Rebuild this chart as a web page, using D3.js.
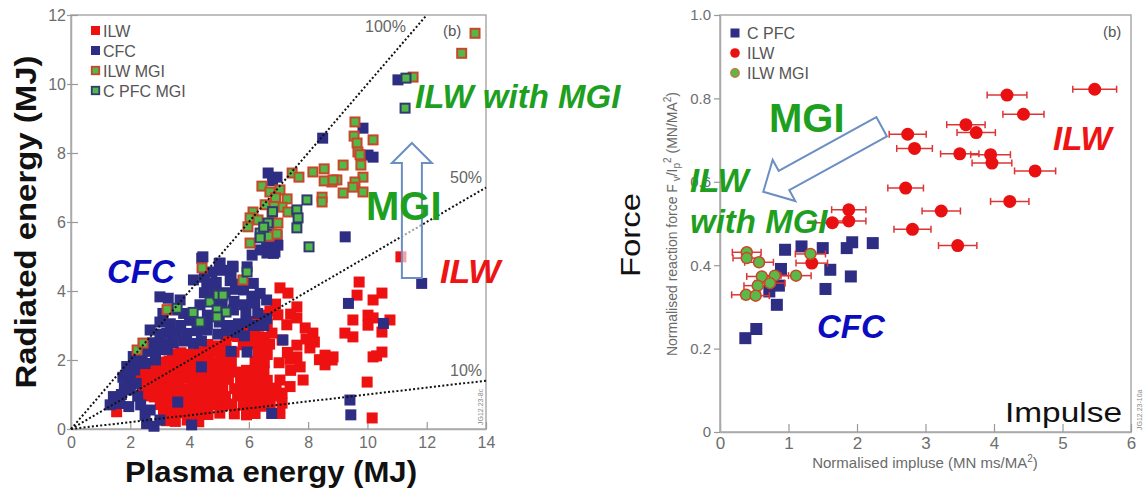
<!DOCTYPE html>
<html><head><meta charset="utf-8">
<script src="https://cdn.jsdelivr.net/npm/d3@7"></script>
<style>
body{margin:0;background:#fff;}
svg{display:block;font-family:"Liberation Sans",Arial,sans-serif;}
</style></head><body>
<svg id="c" width="1148" height="495"></svg>
<script>
// ---------------- LEFT PANEL DATA (Plasma energy MJ, Radiated energy MJ) ----------------
const leftXTicks = [0,2,4,6,8,10,12,14];
const leftYTicks = [0,2,4,6,8,10,12];
const leftRatios = [1, 0.5, 0.1];
const leftRatioLabels = ["100%","50%","10%"];
const leftLegend = ["ILW","CFC","ILW MGI","C PFC MGI"];

const leftILW = [
[11.13,4.99],[9.72,4.26],[9.65,3.88],[10.19,3.74],[10.49,3.94],[9.51,3.16],[10.02,3.30],[10.19,3.22],[10.76,3.16],[10.49,2.81],[9.24,2.78],[9.51,2.67],[10.02,3.01],[8.84,2.09],[10.19,2.09],[10.49,2.23],[9.99,1.36],[10.16,0.32],[10.31,2.12],
[7.05,4.09],[7.32,3.94],[7.62,3.54],[7.62,3.22],[7.90,2.93],[8.16,2.78],[8.06,2.35],[8.57,2.14],[8.81,2.00],[8.57,1.86],[7.62,2.43],[7.62,2.09],[7.39,2.02],[7.12,2.58],[6.78,2.78],[7.30,2.22],[7.02,1.92],[7.41,1.70],[7.73,1.80],[7.83,1.42],[7.39,1.23],[7.05,1.42],[7.12,1.04],[7.12,0.75],[7.05,0.45],[6.92,1.18],[7.28,3.02],[6.98,3.31],[6.90,3.62],[7.41,3.33],[8.21,2.52],[7.93,2.61],[8.38,2.01],
[6.42,3.30],[6.71,3.42],
[6.02,3.02],[6.33,2.98],[6.62,3.05],[6.15,3.12],
[5.31,2.71],[5.62,2.68],[5.93,2.74],[6.21,2.70],[6.52,2.66],
[4.61,2.45],[4.92,2.41],[5.23,2.48],[5.81,2.44],[6.12,2.47],[6.43,2.42],[6.70,2.46],
[3.42,2.18],[3.71,2.21],[4.02,2.16],[4.33,2.24],[4.62,2.19],[4.93,2.22],[5.22,2.17],[5.50,2.23],[6.31,2.20],[6.62,2.16],
[3.02,1.94],[3.31,1.97],[3.62,1.92],[3.91,1.98],[4.22,1.93],[4.52,1.96],[4.81,1.91],[5.12,1.97],[5.41,1.94],[6.21,1.95],[6.52,1.92],
[2.32,1.68],[2.61,1.72],[2.92,1.69],[3.21,1.73],[3.52,1.67],[3.81,1.71],[4.12,1.70],[4.41,1.66],[4.72,1.72],[5.01,1.68],[5.32,1.71],[5.61,1.65],[5.92,1.70],[6.22,1.73],[6.51,1.67],
[2.29,1.44],[2.58,1.47],[2.91,1.42],[3.20,1.46],[3.52,1.43],[3.79,1.48],[4.11,1.44],[4.42,1.47],[4.70,1.42],[5.02,1.46],[5.31,1.44],[5.72,1.47],[6.02,1.43],[6.31,1.46],[6.62,1.41],
[2.41,1.21],[2.72,1.18],[3.02,1.22],[3.31,1.19],[3.62,1.23],[3.91,1.17],[4.22,1.21],[4.51,1.18],[4.82,1.22],[5.12,1.20],[5.52,1.17],[5.81,1.22],[6.12,1.19],[6.41,1.23],[6.72,1.18],
[2.52,0.96],[2.81,0.93],[3.12,0.97],[3.41,0.94],[3.72,0.98],[4.01,0.93],[4.32,0.96],[4.61,0.92],[4.92,0.97],[5.21,0.94],[5.62,0.96],[5.91,0.92],[6.22,0.97],[6.52,0.93],[6.81,0.96],
[3.01,0.71],[3.32,0.68],[3.61,0.72],[3.92,0.69],[4.21,0.73],[4.52,0.67],[4.81,0.71],[5.12,0.68],[5.42,0.72],[5.81,0.69],[6.12,0.71],[6.41,0.66],[6.72,0.70],
[3.12,0.46],[3.41,0.43],[3.72,0.47],[4.02,0.44],[4.31,0.45],[4.62,0.42],[5.02,0.46],[5.51,0.44],[5.92,0.41],[6.21,0.45],
[3.21,0.24],[3.52,0.22],[3.92,0.26],[4.31,0.21],
[1.54,0.50]
];

const leftCFC = [
[4.41,4.95],[5.00,4.80],[5.45,4.72],[4.75,4.55],[5.10,4.60],[5.40,4.45],[4.50,4.40],
[4.13,4.32],[4.58,4.22],[4.90,4.25],[5.37,4.30],[5.70,4.20],[6.15,4.22],
[4.50,3.95],[4.85,4.00],[5.20,3.95],[5.55,4.05],[5.82,4.03],[6.38,3.93],[6.10,3.85],
[3.00,3.83],[3.28,3.79],[3.68,3.74],[4.35,3.60],[4.80,3.70],[5.10,3.65],[5.50,3.70],[5.85,3.60],[6.20,3.65],[6.60,3.74],
[3.10,3.35],[3.45,3.45],[3.80,3.35],[4.60,3.30],[5.48,3.45],[5.90,3.35],[6.30,3.35],[6.60,3.20],
[3.00,3.10],[3.35,3.05],[3.70,3.00],[4.00,3.15],[4.60,3.05],[5.00,3.10],[5.30,3.00],[5.65,3.05],[5.93,3.10],[6.15,3.00],[6.50,3.00],
[2.67,2.87],[3.00,2.75],[3.23,2.77],[3.55,2.80],[3.90,2.77],[4.25,2.85],[4.58,2.87],[4.95,2.75],[5.25,2.85],[5.60,2.80],[5.85,2.70],
[2.44,2.48],[2.75,2.50],[3.10,2.45],[3.45,2.50],[3.80,2.55],[4.13,2.48],[4.40,2.55],
[2.10,2.10],[2.40,2.20],[2.70,2.25],[3.00,2.30],[3.25,2.30],
[1.88,1.81],[2.20,1.95],[2.50,1.90],[2.85,2.00],[1.75,1.50],
[2.00,1.55],[2.15,1.71],
[2.00,1.30],[2.20,1.32],[1.80,1.20],
[1.43,0.94],[1.70,1.00],[2.00,1.13],[2.25,0.95],
[1.32,0.70],[1.65,0.74],[1.95,0.65],[2.35,0.70],[2.67,0.55],[2.50,0.40],
[2.55,0.16],[3.00,0.26],[2.80,0.08],[4.07,0.12],[3.60,0.78],
[4.40,1.80],[5.94,2.23],[7.15,2.58],[6.77,0.45],[5.40,2.25],
[9.41,0.84],[9.44,0.41],[9.36,3.64],[10.54,3.06],[11.83,4.22],[9.25,5.57],[8.49,8.43],
[6.65,7.42],[6.95,7.30],[6.80,7.20],
[6.60,5.28],[6.83,5.09],[6.38,5.19],[6.71,5.28],[6.98,5.33],[6.11,5.04],[6.61,5.10],[6.88,5.13],[6.95,5.60],[6.75,5.65],
[4.45,4.99],[5.03,4.81],[5.47,4.70],[5.94,4.70],
[9.85,8.72],[10.02,7.94],[10.19,7.88],[11.03,10.12]
];

const leftILWMGI = [
[13.63,11.47],[13.18,10.89],[11.54,10.20],
[9.58,8.90],[9.55,8.49],[9.65,8.29],[10.19,8.38],[9.68,8.03],[9.75,7.95],[9.78,7.65],[9.18,7.65],[9.85,7.30],[9.58,7.16],[9.51,7.01],[9.18,6.84],[9.85,6.87],[8.97,7.22],[8.80,7.16],[8.16,7.45],[8.54,7.54],[8.54,7.19],[8.84,7.22],[8.47,6.72],[8.47,6.58],
[7.46,7.42],[7.69,7.30],[6.44,7.04],[6.71,6.87],[7.05,6.93],[6.90,6.70],[7.29,6.67],[7.12,6.43],[7.32,6.29],[6.14,6.29],[6.04,6.12],[5.97,5.86],[6.31,6.06],[6.78,6.26],[6.98,5.97],[6.68,5.59],[6.95,5.65],[6.04,5.39],[6.55,6.50],[6.85,6.45],
[4.42,4.67],[5.80,4.32],[3.24,3.46],[2.23,2.29],[2.43,2.49]
];

const leftCPFCMGI = [
[11.30,10.17],[11.27,9.30],[7.96,6.64],[8.03,5.28],[7.62,6.35],[7.66,6.12],[7.62,5.83],[6.80,6.30],[6.65,5.97],[6.38,5.68],[6.38,5.54],[6.50,5.85],
[5.94,4.55],[3.58,3.50],[4.12,3.38],[4.35,3.10],[4.69,3.68],[4.96,3.88],[5.13,3.88],[4.93,3.45],[5.23,3.39],[4.93,3.25]
];

// ---------------- RIGHT PANEL DATA (Normalised impulse, Normalised force) ----------------
const rightXTicks = [0,1,2,3,4,5,6];
const rightYTicks = [0,0.2,0.4,0.6,0.8,1.0];
const rightLegend = ["C PFC","ILW","ILW MGI"];
const rightCPFC = [
[0.37,0.225],[0.53,0.247],[0.83,0.305],[0.72,0.337],[0.86,0.351],[0.89,0.391],[0.95,0.437],[1.19,0.445],[1.50,0.441],[1.61,0.389],[1.54,0.343],[1.85,0.441],[1.93,0.455],[1.91,0.373],[2.23,0.453]
];
// [impulse, force, impulse error]
const rightILW = [
[5.47,0.822,0.32],[4.19,0.808,0.29],[4.43,0.762,0.30],[3.59,0.737,0.28],[3.74,0.718,0.28],[2.74,0.714,0.27],[2.84,0.680,0.26],[3.50,0.667,0.28],[3.95,0.665,0.29],[3.97,0.645,0.29],[4.60,0.626,0.30],[2.71,0.585,0.26],[4.23,0.553,0.28],[3.23,0.530,0.28],[2.81,0.486,0.27],[3.47,0.447,0.28],[1.88,0.533,0.25],[1.88,0.506,0.25],[1.64,0.502,0.25],[1.34,0.405,0.23]
];
const rightILWMGI = [
[0.39,0.431,0.21],[0.39,0.417,0.20],[0.57,0.407,0.21],[1.32,0.427,0.22],[0.61,0.373,0.22],[0.80,0.375,0.20],[1.11,0.375,0.22],[0.73,0.357,0.22],[0.55,0.351,0.20],[0.38,0.329,0.21],[0.52,0.327,0.20]
];

// ---------------- STYLE ----------------
const C = {
  red:"#ee1111", navy:"#2e2d84", green:"#52b848", mgiRed:"#c8472a", mgiNavy:"#2e3a70",
  txtGreen:"#1f9f1f", txtBlue:"#0c0cbf", txtRed:"#ee1414", axis:"#aaaaaa", tick:"#6e6e6e",
  arrow:"#6b8fc2", err:"#dd3535"
};
const svg = d3.select("#c");

function styleAxis(g, fs){
  g.select(".domain").attr("stroke", C.axis).attr("stroke-width",1.5);
  g.selectAll(".tick line").attr("stroke", "#999").attr("stroke-width",1.2);
  g.selectAll(".tick text").attr("fill", C.tick).attr("font-size", fs).attr("font-family","Liberation Sans, Arial, sans-serif");
}

// ================= LEFT PANEL =================
const lx = d3.scaleLinear().domain([0,14]).range([71,486]);
const ly = d3.scaleLinear().domain([0,12]).range([429,15]);
const L = svg.append("g");

L.append("rect").attr("x",lx(0)).attr("y",ly(12)).attr("width",lx(14)-lx(0)).attr("height",ly(0)-ly(12))
 .attr("fill","none").attr("stroke",C.axis).attr("stroke-width",1.5);

const lxg = L.append("g").attr("transform",`translate(0,${ly(0)})`)
  .call(d3.axisBottom(lx).tickValues(leftXTicks).tickSizeInner(-7).tickSizeOuter(0).tickPadding(7.5).tickFormat(d3.format("d")));
styleAxis(lxg,16);
const lyg = L.append("g").attr("transform",`translate(${lx(0)},0)`)
  .call(d3.axisLeft(ly).tickValues(leftYTicks).tickSizeInner(4).tickSizeOuter(0).tickPadding(1).tickFormat(d3.format("d")));
styleAxis(lyg,16);
lyg.selectAll(".tick line").attr("x1",7);

// markers
const S = 11;
function squares(g, data, xs, ys, size, fill, stroke, sw){
  g.selectAll(null).data(data).enter().append("rect")
   .attr("x",d=>xs(d[0])-size/2).attr("y",d=>ys(d[1])-size/2)
   .attr("width",size).attr("height",size)
   .attr("fill",fill).attr("stroke",stroke||"none").attr("stroke-width",sw||0);
}
const mk = L.append("g");
squares(mk, leftILW, lx, ly, S, C.red);
squares(mk, leftCFC, lx, ly, S, C.navy);
squares(mk, leftILWMGI, lx, ly, S-2, C.green, C.mgiRed, 2);
squares(mk, leftCPFCMGI, lx, ly, S-2, C.green, C.mgiNavy, 2);

// ratio lines (drawn over markers)
const ratioG = L.append("g");
leftRatios.forEach(r=>{
  const xe = Math.min(14, 12/r);
  ratioG.append("line").attr("x1",lx(0)).attr("y1",ly(0)).attr("x2",lx(xe)).attr("y2",ly(xe*r))
    .attr("stroke","#111").attr("stroke-width",2).attr("stroke-dasharray","2,2.2");
});
const ratioLabelPos = [[365,32],[450,183],[450,376]];
leftRatioLabels.forEach((t,i)=>{
  L.append("text").attr("x",ratioLabelPos[i][0]).attr("y",ratioLabelPos[i][1]).attr("font-size",16).attr("fill","#666").text(t);
});
L.append("text").attr("x",443).attr("y",36).attr("font-size",15).attr("fill","#555").text("(b)");

// legend
const legCols = [[C.red,null],[C.navy,null],[C.green,C.mgiRed],[C.green,C.mgiNavy]];
leftLegend.forEach((t,i)=>{
  const yy = 30.5 + i*20;
  L.append("rect").attr("x",91+(legCols[i][1]?0.75:0)).attr("y",yy-4.5+(legCols[i][1]?0.75:0))
   .attr("width",legCols[i][1]?7.5:9).attr("height",legCols[i][1]?7.5:9)
   .attr("fill",legCols[i][0]).attr("stroke",legCols[i][1]||"none").attr("stroke-width",legCols[i][1]?1.8:0);
  L.append("text").attr("x",103).attr("y",yy+6).attr("font-size",16).attr("fill","#555").text(t);
});

// arrow (vertical, up)
(function(){
  const xc = lx(11.5), yTip = ly(8.29), yBot = ly(4.38), hw = 10, HW = 20, HL = 20;
  const pts = [[xc-hw,yBot],[xc-hw,yTip+HL],[xc-HW,yTip+HL],[xc,yTip],[xc+HW,yTip+HL],[xc+hw,yTip+HL],[xc+hw,yBot]];
  L.append("polygon").attr("points",pts.map(p=>p.join(",")).join(" "))
   .attr("fill","#fff").attr("fill-opacity",0.6).attr("stroke",C.arrow).attr("stroke-width",2);
})();

// annotations
L.append("text").attr("x",415).attr("y",108).attr("font-size",33).attr("font-weight","bold").attr("font-style","italic").attr("fill",C.txtGreen).text("ILW with MGI");
L.append("text").attr("x",366).attr("y",220).attr("font-size",40).attr("font-weight","bold").attr("fill",C.txtGreen).text("MGI");
L.append("text").attr("x",440).attr("y",283).attr("font-size",34).attr("font-weight","bold").attr("font-style","italic").attr("fill",C.txtRed).text("ILW");
L.append("text").attr("x",107).attr("y",283).attr("font-size",33).attr("font-weight","bold").attr("font-style","italic").attr("fill",C.txtBlue).text("CFC");

// axis titles
L.append("text").attr("x",271).attr("y",482).attr("text-anchor","middle").attr("font-size",29).attr("font-weight","bold")
 .attr("fill","#111").attr("textLength",292).attr("lengthAdjust","spacingAndGlyphs").text("Plasma energy (MJ)");
L.append("text").attr("transform","translate(36,222) rotate(-90)").attr("text-anchor","middle").attr("font-size",29).attr("font-weight","bold")
 .attr("fill","#111").attr("textLength",333).attr("lengthAdjust","spacingAndGlyphs").text("Radiated energy (MJ)");
L.append("text").attr("transform","translate(483,425) rotate(-90)").attr("font-size",7).attr("fill","#888").text("JG12.23-8c");

// ================= RIGHT PANEL =================
const rx = d3.scaleLinear().domain([0,6]).range([720,1131]);
const ry = d3.scaleLinear().domain([0,1]).range([432,15]);
const R = svg.append("g");
R.append("rect").attr("x",rx(0)).attr("y",ry(1)).attr("width",rx(6)-rx(0)).attr("height",ry(0)-ry(1))
 .attr("fill","none").attr("stroke",C.axis).attr("stroke-width",1.5);

const rxg = R.append("g").attr("transform",`translate(0,${ry(0)})`)
  .call(d3.axisBottom(rx).tickValues(rightXTicks).tickSizeInner(-8).tickSizeOuter(0).tickPadding(5).tickFormat(d3.format("d")));
styleAxis(rxg,17);
const ryg = R.append("g").attr("transform",`translate(${rx(0)},0)`)
  .call(d3.axisLeft(ry).tickValues(rightYTicks).tickSizeInner(6).tickSizeOuter(0).tickPadding(3).tickFormat(d=>d===0?"0":d3.format(".1f")(d)));
styleAxis(ryg,15);

const rm = R.append("g");
squares(rm, rightCPFC, rx, ry, 12, C.navy);

function errBars(g, data){
  data.forEach(d=>{
    const y = ry(d[1]), x0 = rx(d[0]-d[2]), x1 = rx(d[0]+d[2]);
    g.append("line").attr("x1",x0).attr("x2",x1).attr("y1",y).attr("y2",y).attr("stroke",C.err).attr("stroke-width",1.5);
    [x0,x1].forEach(xx=>g.append("line").attr("x1",xx).attr("x2",xx).attr("y1",y-3.5).attr("y2",y+3.5).attr("stroke",C.err).attr("stroke-width",1.5));
  });
}
errBars(rm, rightILW);
rm.selectAll(null).data(rightILW).enter().append("circle")
  .attr("cx",d=>rx(d[0])).attr("cy",d=>ry(d[1])).attr("r",6.5).attr("fill","#e81010");
errBars(rm, rightILWMGI);
rm.selectAll(null).data(rightILWMGI).enter().append("circle")
  .attr("cx",d=>rx(d[0])).attr("cy",d=>ry(d[1])).attr("r",5.5).attr("fill","#5cb848").attr("stroke",C.mgiRed).attr("stroke-width",1.5);

// legend
rightLegend.forEach((t,i)=>{
  const yy = 33 + i*20;
  if(i===0) R.append("rect").attr("x",730.5).attr("y",yy-4.5).attr("width",9).attr("height",9).attr("fill",C.navy);
  else if(i===1) R.append("circle").attr("cx",735).attr("cy",yy).attr("r",4.8).attr("fill","#e81010");
  else R.append("circle").attr("cx",735).attr("cy",yy).attr("r",4.2).attr("fill","#5cb848").attr("stroke","#c07a3a").attr("stroke-width",1.4);
  R.append("text").attr("x",747).attr("y",yy+6).attr("font-size",16).attr("fill","#555").text(t);
});
R.append("text").attr("x",1103).attr("y",37).attr("font-size",15).attr("fill","#555").text("(b)");

// arrow (diagonal)
(function(){
  const tail = [rx(2.36), ry(0.732)], tip = [rx(0.632), ry(0.576)];
  const dx = tip[0]-tail[0], dy = tip[1]-tail[1], len = Math.hypot(dx,dy);
  const d = [dx/len, dy/len], n = [d[1], -d[0]];
  const w = 11, W = 23.5, HL = 23.6;
  const hb = [tip[0]-d[0]*HL, tip[1]-d[1]*HL];
  const P = (b,s)=>[b[0]+n[0]*s, b[1]+n[1]*s];
  const pts = [P(tail,w),P(hb,w),P(hb,W),tip,P(hb,-W),P(hb,-w),P(tail,-w)];
  R.append("polygon").attr("points",pts.map(p=>p.join(",")).join(" "))
   .attr("fill","#fff").attr("fill-opacity",0.5).attr("stroke",C.arrow).attr("stroke-width",2);
})();

R.append("text").attr("x",769).attr("y",132).attr("font-size",40).attr("font-weight","bold").attr("fill",C.txtGreen).text("MGI");
R.append("text").attr("x",690).attr("y",192).attr("font-size",33).attr("font-weight","bold").attr("font-style","italic").attr("fill",C.txtGreen).text("ILW");
R.append("text").attr("x",690).attr("y",233).attr("font-size",33).attr("font-weight","bold").attr("font-style","italic").attr("fill",C.txtGreen).text("with MGI");
R.append("text").attr("x",1053).attr("y",150).attr("font-size",33).attr("font-weight","bold").attr("font-style","italic").attr("fill",C.txtRed).text("ILW");
R.append("text").attr("x",817).attr("y",338).attr("font-size",33).attr("font-weight","bold").attr("font-style","italic").attr("fill",C.txtBlue).text("CFC");
R.append("text").attr("x",1005).attr("y",422).attr("font-size",27).attr("fill","#111").attr("textLength",117).attr("lengthAdjust","spacingAndGlyphs").text("Impulse");
R.append("text").attr("transform","translate(640,235) rotate(-90)").attr("text-anchor","middle").attr("font-size",27).attr("fill","#111")
 .attr("textLength",84).attr("lengthAdjust","spacingAndGlyphs").text("Force");

// axis titles (small)
const yt = R.append("text").attr("transform","translate(677,224) rotate(-90)").attr("text-anchor","middle").attr("font-size",14).attr("fill","#6a6a6a");
yt.append("tspan").text("Normalised reaction force F");
yt.append("tspan").attr("font-size",10).attr("dy",3).text(" v");
yt.append("tspan").attr("dy",-3).text("/I");
yt.append("tspan").attr("font-size",10).attr("dy",3).text("p");
yt.append("tspan").attr("font-size",10).attr("dy",-9).text("2");
yt.append("tspan").attr("dy",6).text(" (MN/MA");
yt.append("tspan").attr("font-size",10).attr("dy",-6).text("2");
yt.append("tspan").attr("dy",6).text(")");

const xt = R.append("text").attr("x",925).attr("y",468).attr("text-anchor","middle").attr("font-size",15).attr("fill","#6a6a6a");
xt.append("tspan").text("Normalised impluse (MN ms/MA");
xt.append("tspan").attr("font-size",10).attr("dy",-6).text("2");
xt.append("tspan").attr("dy",6).text(")");
R.append("text").attr("transform","translate(1142,430) rotate(-90)").attr("font-size",7).attr("fill","#888").text("JG12.23-10a");
</script>
</body></html>
